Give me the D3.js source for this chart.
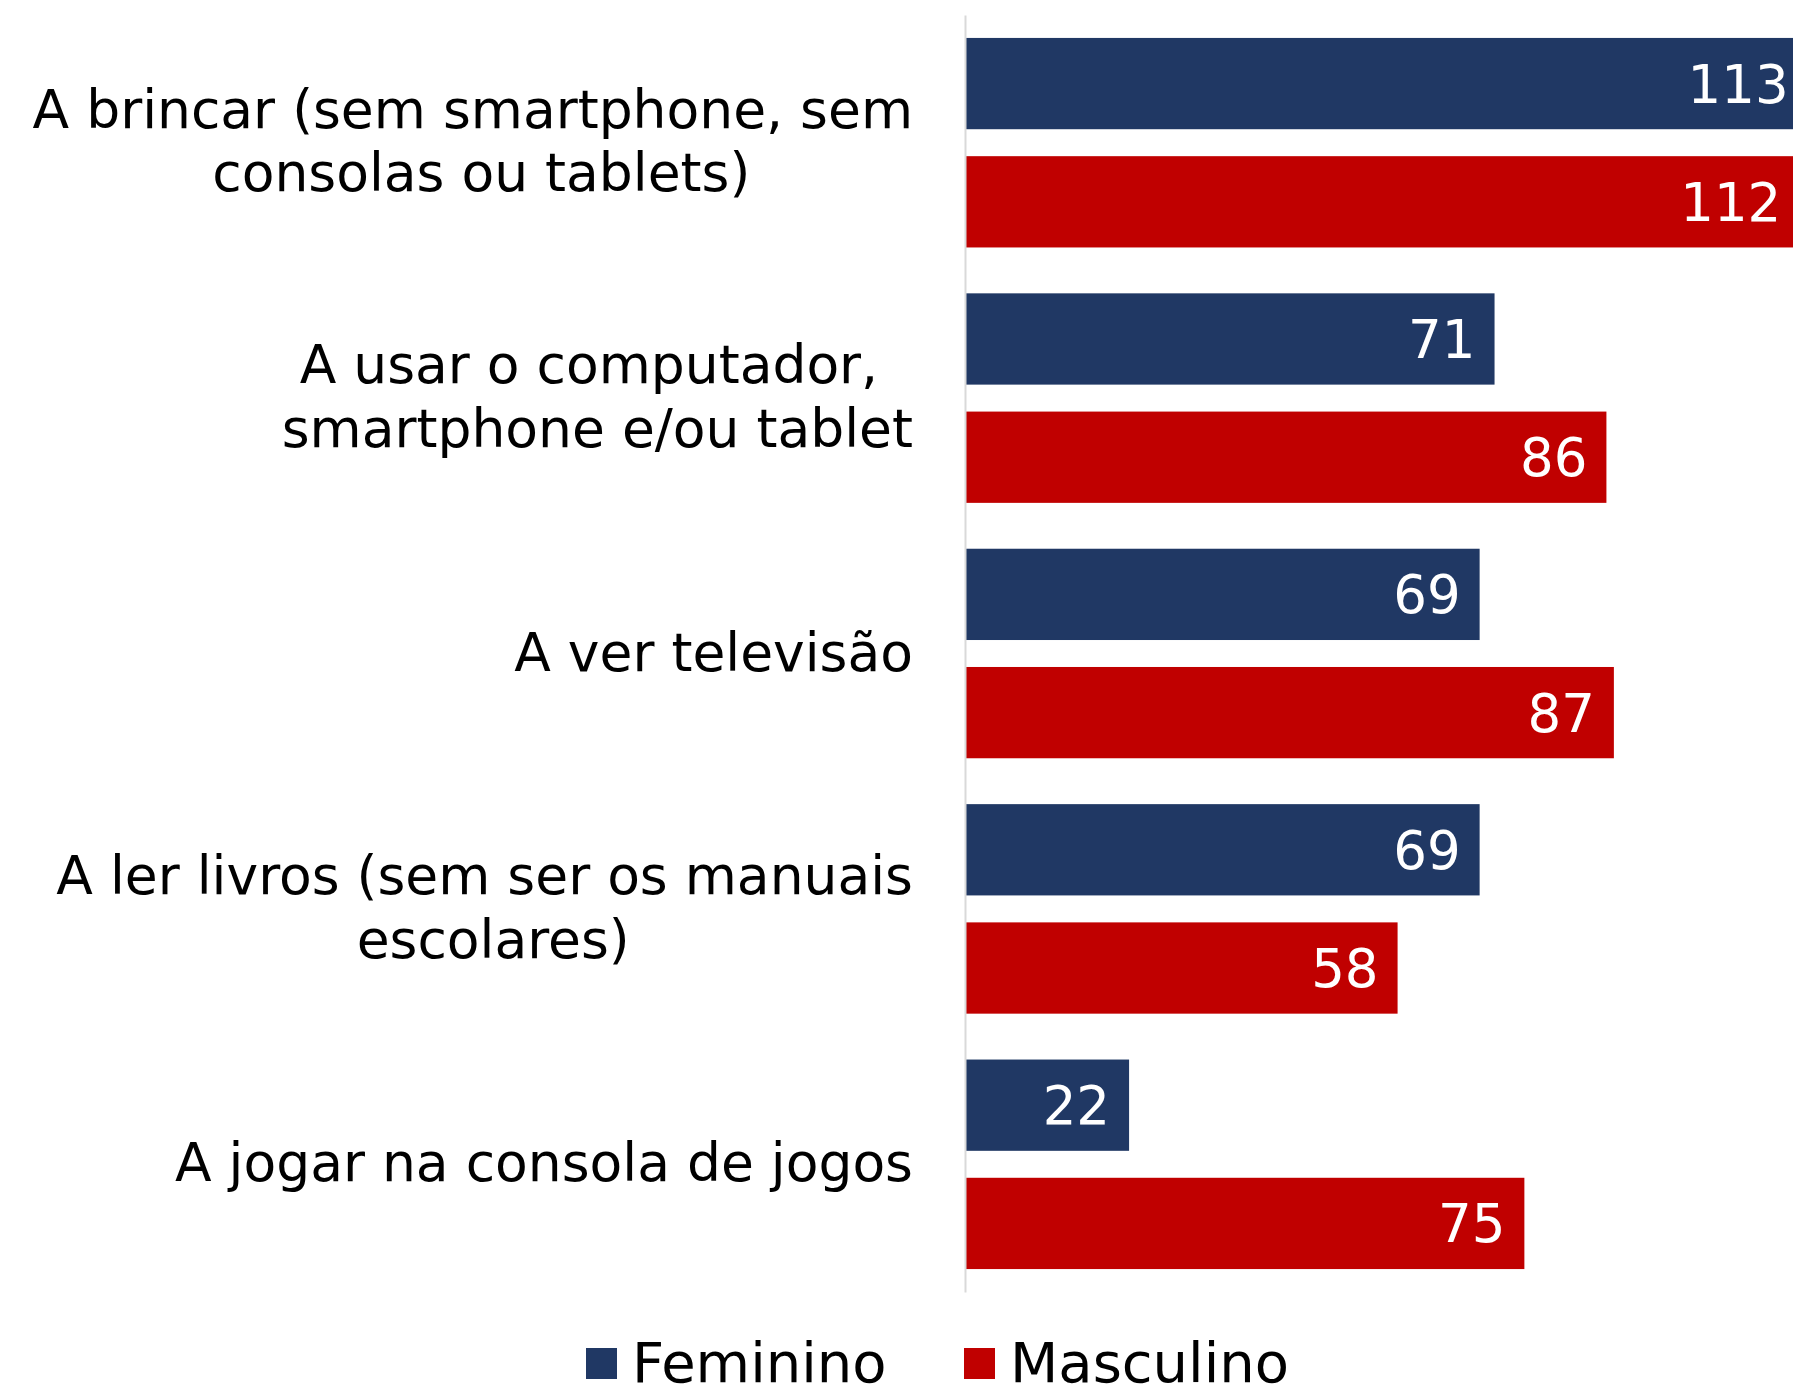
<!DOCTYPE html>
<html>
<head>
<meta charset="utf-8">
<script src="https://cdn.jsdelivr.net/npm/d3@7"></script>
<style>
  body { margin: 0; background: #fff; }
  text { font-family: "DejaVu Sans", sans-serif; }
</style>
</head>
<body>
<div id="chart"></div>
<script>
// Dados do gráfico
const categories = [
  "A brincar (sem smartphone, sem consolas ou tablets)",
  "A usar o computador, smartphone e/ou tablet",
  "A ver televisão",
  "A ler livros (sem ser os manuais escolares)",
  "A jogar na consola de jogos"
];
// linhas dos rótulos como aparecem no original
const categoryLines = [
  ["A brincar (sem smartphone, sem ", "consolas ou tablets)"],
  ["A usar o computador, ", "smartphone e/ou tablet"],
  ["A ver televisão"],
  ["A ler livros (sem ser os manuais ", "escolares)"],
  ["A jogar na consola de jogos"]
];
const seriesNames = ["Feminino", "Masculino"];
const feminino = [113, 71, 69, 69, 22];
const masculino = [112, 86, 87, 58, 75];
const colors = ["#203864", "#C00000"];

const svgWidth = 1793;
const svgHeight = 1389;

const svg = d3.select("#chart")
  .append("svg")
  .attr("width", svgWidth)
  .attr("height", svgHeight);

// Escalas
const x = d3.scaleLinear()
  .domain([0, 120])
  .range([965, 1860]);

const y = d3.scaleBand()
  .domain(categories)
  .range([15, 1292]);

const ySub = d3.scaleBand()
  .domain(seriesNames)
  .range([0, y.bandwidth()])
  .paddingInner(0.228)
  .paddingOuter(0.194);

const color = d3.scaleOrdinal().domain(seriesNames).range(colors);

const rows = categories.map((c, i) => ({
  category: c,
  values: [
    { series: "Feminino", value: feminino[i] },
    { series: "Masculino", value: masculino[i] }
  ]
}));

// Barras
const groups = svg.selectAll("g.cat")
  .data(rows)
  .enter()
  .append("g")
  .attr("class", "cat")
  .attr("transform", d => `translate(0, ${y(d.category)})`);

groups.selectAll("rect")
  .data(d => d.values)
  .enter()
  .append("rect")
  .attr("x", x(0))
  .attr("y", d => ySub(d.series))
  .attr("width", d => x(d.value) - x(0))
  .attr("height", ySub.bandwidth())
  .attr("fill", d => color(d.series));

// Rótulos de valor
groups.selectAll("text.value")
  .data(d => d.values)
  .enter()
  .append("text")
  .attr("class", "value")
  .attr("x", d => x(d.value) - 19)
  .attr("y", d => ySub(d.series) + ySub.bandwidth() / 2)
  .attr("dy", "0.36em")
  .attr("text-anchor", "end")
  .attr("fill", "#fff")
  .style("font-size", "53px")
  .text(d => d.value);

// Eixo Y
const yAxis = svg.append("g")
  .attr("transform", `translate(${x(0)}, 0)`)
  .call(d3.axisLeft(y).tickSize(0).tickSizeOuter(0).tickFormat(""));

yAxis.select(".domain")
  .attr("stroke", "#d9d9d9")
  .attr("stroke-width", 2);

// Rótulos das categorias (várias linhas, centradas; a tinta da linha mais larga acaba a 52px do eixo)
const lineHeight = 63.5;
yAxis.selectAll(".tick").each(function(d) {
  const i = categories.indexOf(d);
  const lines = categoryLines[i];
  const t = d3.select(this).select("text")
    .attr("fill", "#000")
    .attr("text-anchor", "middle")
    .style("font-size", "53.5px")
    .style("white-space", "pre")
    .attr("dy", null);
  lines.forEach((ln, k) => {
    t.append("tspan")
      .attr("y", 17 + (k - (lines.length - 1) / 2) * lineHeight)
      .text(ln);
  });
  let full = 0, ink = 0;
  t.selectAll("tspan").each(function() {
    const w = this.getComputedTextLength();
    if (w > full) {
      full = w;
      const txt = this.textContent;
      this.textContent = txt.trimEnd();
      ink = this.getComputedTextLength();
      this.textContent = txt;
    }
  });
  t.selectAll("tspan").attr("x", -52 - full / 2 + (full - ink));
});

// Legenda
const legendOffsets = [0, 378];
const legend = svg.append("g").attr("transform", "translate(586, 1348)");
seriesNames.forEach((s, i) => {
  const item = legend.append("g").attr("transform", `translate(${legendOffsets[i]}, 0)`);
  item.append("rect")
    .attr("width", 31)
    .attr("height", 31)
    .attr("fill", color(s));
  item.append("text")
    .attr("x", 46)
    .attr("y", 34)
    .attr("fill", "#000")
    .style("font-size", "56px")
    .text(s);
});
</script>
</body>
</html>
